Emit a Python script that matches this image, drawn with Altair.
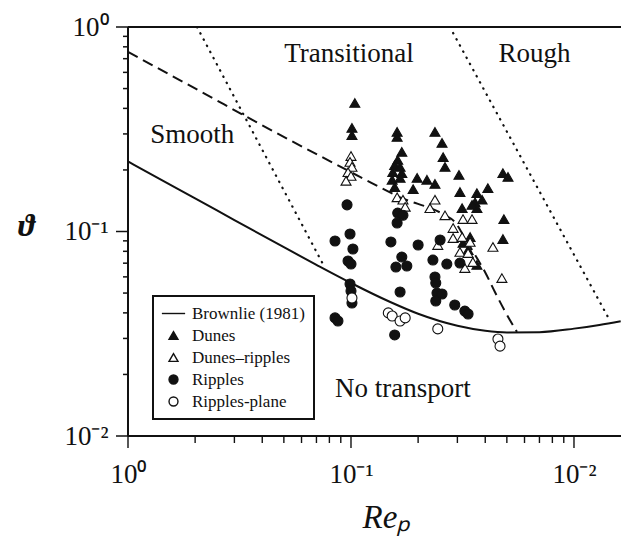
import math
import altair as alt
import pandas as pd

# ---------------- data ----------------
# Brownlie (1981) curve
brownlie_rep = [1, 1.5, 2, 3, 5, 7, 10, 15, 20, 30, 40, 50, 70, 100, 130, 162]
brownlie_theta = [0.220, 0.1725, 0.1452, 0.1138, 0.0838, 0.0687, 0.0560, 0.0452,
                  0.0396, 0.0346, 0.0327, 0.0321, 0.0322, 0.0335, 0.0349, 0.0364]

# dashed boundary
bound_rep = [1, 2.10, 3.91, 7.26, 10.97, 16.6, 26.4, 29.3, 32.4, 36.0, 39.9, 44.2, 49.0, 55.5]
bound_theta = [0.755, 0.486, 0.335, 0.234, 0.185, 0.147, 0.120, 0.111, 0.0929,
               0.0768, 0.0634, 0.0506, 0.0408, 0.0323]

# dotted boundaries
smooth_rep = [2.04, 7.65]
smooth_theta = [1.0, 0.0663]
rough_rep = [28.7, 142]
rough_theta = [0.935, 0.0382]

# Dunes (filled triangles)
dunes_rep = [10.4, 10.1, 10.1, 16.1, 16.1, 16.9, 16.2, 15.7, 16.6, 15.4, 16.9, 15.3, 16.6,
             15.7, 19.8, 21.9, 19.0, 23.8, 23.8, 25.6, 25.9, 26.4, 30.5, 30.8, 36.7, 41.1,
             48.0, 50.6, 36.0, 38.7, 36.7, 34.9, 31.5, 48.5, 48.0, 34.2, 31.8, 33.5, 36.7]
dunes_theta = [0.425, 0.321, 0.296, 0.307, 0.290, 0.245, 0.224, 0.211, 0.207, 0.195, 0.193,
               0.179, 0.183, 0.165, 0.183, 0.179, 0.161, 0.171, 0.307, 0.271, 0.231, 0.207,
               0.189, 0.156, 0.154, 0.163, 0.193, 0.185, 0.139, 0.143, 0.130, 0.135, 0.130,
               0.115, 0.0919, 0.0940, 0.0879, 0.0812, 0.0686]

# Dunes-ripples (open triangles)
dr_rep = [10.0, 9.9, 10.1, 9.7, 10.0, 9.5, 16.1, 17.1, 17.5, 23.8, 22.6, 26.4, 31.8, 34.9,
          28.7, 28.7, 31.5, 34.2, 24.5, 43.3, 30.8, 33.5, 35.2, 32.4, 47.5]
dr_theta = [0.234, 0.219, 0.207, 0.195, 0.187, 0.177, 0.147, 0.143, 0.132, 0.143, 0.130,
            0.120, 0.115, 0.115, 0.104, 0.0929, 0.0940, 0.0889, 0.0859, 0.0840, 0.0794,
            0.0785, 0.0709, 0.0663, 0.0592]

# Ripples (filled circles)
rip_rep = [9.6, 9.9, 8.48, 10.2, 9.7, 10.0, 9.9, 10.0, 10.1, 8.48, 8.74, 16.2, 17.1, 16.1,
           15.1, 16.9, 15.9, 17.8, 16.6, 15.7, 20.0, 25.1, 23.3, 26.9, 30.8, 23.8, 24.0,
           24.3, 25.6, 24.0, 29.2, 32.4, 33.5]
rip_theta = [0.135, 0.0972, 0.0899, 0.0821, 0.0717, 0.0693, 0.0554, 0.0512, 0.0447, 0.0378,
             0.0365, 0.123, 0.120, 0.110, 0.0889, 0.0750, 0.0670, 0.0678, 0.0506, 0.0312,
             0.0859, 0.0909, 0.0725, 0.0693, 0.0701, 0.0599, 0.0560, 0.0500, 0.0495,
             0.0457, 0.0437, 0.0408, 0.0395]

# Ripples-plane (open circles)
rp_rep = [10.1, 14.7, 15.3, 16.6, 17.5, 24.5, 45.6, 46.6]
rp_theta = [0.0473, 0.0400, 0.0386, 0.0365, 0.0378, 0.0334, 0.0298, 0.0275]

# regime labels
region_names = ["Smooth", "Transitional", "Rough", "No transport"]
region_rep = [1.94, 9.80, 66.5, 17.1]
region_theta = [0.271, 0.674, 0.674, 0.0155]

# axes
x_major_values = [1, 10, 100]
x_tick_labels = ["10⁰", "10⁻¹", "10⁻²"]
x_minor_values = [2, 3, 4, 5, 6, 7, 8, 9, 20, 30, 40, 50, 60, 70, 80, 90]
y_major_values = [1, 0.1, 0.01]
y_tick_labels = ["10⁰", "10⁻¹", "10⁻²"]
y_minor_values = [0.02, 0.03, 0.04, 0.05, 0.06, 0.07, 0.08, 0.09,
                  0.2, 0.3, 0.4, 0.5, 0.6, 0.7, 0.8, 0.9]
x_frame = [1, 162.5]      # Re_p range of the plotted frame
y_frame = [0.01, 1]       # theta range of the plotted frame

legend_types = ["Brownlie (1981)", "Dunes", "Dunes–ripples", "Ripples", "Ripples-plane"]

# ---------------- layout ----------------
FONT = "Liberation Serif"
INK = "#111111"
PX_PER_DECADE = 223.0
MAJOR, MINOR = 12, 7
H = 409
# the scale starts one major-tick length left of the frame so the y ticks stay in view
X_LEFT = 10 ** (-MAJOR / PX_PER_DECADE)
X_MINOR_END = 10 ** (-(MAJOR - MINOR) / PX_PER_DECADE)
W = int(round(PX_PER_DECADE * (math.log10(x_frame[1]) - math.log10(X_LEFT))))

brown_df = pd.DataFrame({"rep": brownlie_rep, "theta": brownlie_theta})
bound_df = pd.DataFrame({"rep": bound_rep, "theta": bound_theta})
dot_df = pd.DataFrame({
    "rep": smooth_rep + rough_rep,
    "theta": smooth_theta + rough_theta,
    "seg": ["smooth"] * len(smooth_rep) + ["rough"] * len(rough_rep),
})
pts_df = pd.concat([
    pd.DataFrame({"rep": dunes_rep, "theta": dunes_theta, "type": "Dunes"}),
    pd.DataFrame({"rep": dr_rep, "theta": dr_theta, "type": "Dunes–ripples"}),
    pd.DataFrame({"rep": rip_rep, "theta": rip_theta, "type": "Ripples"}),
    pd.DataFrame({"rep": rp_rep, "theta": rp_theta, "type": "Ripples-plane"}),
], ignore_index=True)
reg_df = pd.DataFrame({"rep": region_rep, "theta": region_theta, "name": region_names})
xmaj_df = pd.DataFrame({"v": x_major_values})
xmin_df = pd.DataFrame({"v": x_minor_values})

# y ticks as short two-point line segments (one segment per tick)
ytick_rows = []
for i, v in enumerate(y_major_values):
    ytick_rows.append({"tx": X_LEFT, "ty": v, "tid": f"M{i}"})
    ytick_rows.append({"tx": x_frame[0], "ty": v, "tid": f"M{i}"})
for i, v in enumerate(y_minor_values):
    ytick_rows.append({"tx": X_MINOR_END, "ty": v, "tid": f"m{i}"})
    ytick_rows.append({"tx": x_frame[0], "ty": v, "tid": f"m{i}"})
ytick_df = pd.DataFrame(ytick_rows)

frame_df = pd.DataFrame({
    "x0": [x_frame[0], x_frame[0], x_frame[0]],
    "x1": [x_frame[0], x_frame[1], x_frame[1]],
    "y0": [y_frame[0], y_frame[0], y_frame[1]],
    "y1": [y_frame[1], y_frame[0], y_frame[1]],
})


def label_expr(values, labels):
    parts = [f"abs(datum.value - {v}) < {v * 1e-6} ? '{l}'" for v, l in zip(values, labels)]
    return " : ".join(parts) + " : ''"


xscale = alt.Scale(type="log", domain=[X_LEFT, x_frame[1]], nice=False)
yscale = alt.Scale(type="log", domain=y_frame, nice=False)

x_axis = alt.Axis(
    orient="bottom", values=x_major_values, labelExpr=label_expr(x_major_values, x_tick_labels),
    ticks=False, domain=False,
    labelFont=FONT, labelFontSize=27, labelColor=INK, labelPadding=25,
    labelFlush=False, labelOverlap=False, grid=False,
    title="Reₚ", titleFont=FONT, titleFontSize=33, titleFontStyle="italic",
    titleFontWeight="normal", titleColor=INK, titleX=270, titleY=91,
    titleAlign="center", titleBaseline="alphabetic",
)
y_axis = alt.Axis(
    orient="left", values=y_major_values, labelExpr=label_expr(y_major_values, y_tick_labels),
    ticks=False, domain=False,
    labelFont=FONT, labelFontSize=27, labelColor=INK, labelPadding=8,
    labelFlush=False, labelOverlap=False, grid=False,
    title="ϑ", titleFont=FONT, titleFontSize=32, titleFontStyle="italic",
    titleFontWeight="bold", titleColor=INK, titleAngle=0, titleX=-90, titleY=208,
    titleAlign="center", titleBaseline="alphabetic",
)

legend = alt.Legend(
    title=None, orient="none", legendX=37, legendY=269, direction="vertical",
    strokeColor=INK, fillColor="white", padding=9, rowPadding=4,
    labelFont=FONT, labelFontSize=17, labelColor=INK, labelOffset=10,
    symbolSize=80, symbolStrokeWidth=1.4, symbolOffset=3,
)
shape_range = ["M-2.6,0H2.6", "triangle-up", "triangle-up", "circle", "circle"]
fill_range = [INK, INK, "white", INK, "white"]
stroke_range = [INK, INK, INK, INK, INK]

# frame lines (left, bottom, top)
frame = alt.Chart(frame_df).mark_rule(color=INK, strokeWidth=2).encode(
    x=alt.X("x0:Q", scale=xscale, axis=None), x2="x1:Q",
    y=alt.Y("y0:Q", scale=yscale, axis=None), y2="y1:Q")

# tick marks (outward), positioned by the scales
xmaj_ticks = alt.Chart(xmaj_df).mark_rule(color=INK, strokeWidth=1.4).encode(
    x=alt.X("v:Q", scale=xscale, axis=None), y=alt.value(H), y2=alt.value(H + MAJOR))
xmin_ticks = alt.Chart(xmin_df).mark_rule(color=INK, strokeWidth=1.4).encode(
    x=alt.X("v:Q", scale=xscale, axis=None), y=alt.value(H), y2=alt.value(H + MINOR))
y_ticks = alt.Chart(ytick_df).mark_line(color=INK, strokeWidth=1.5).encode(
    x=alt.X("tx:Q", scale=xscale, axis=None),
    y=alt.Y("ty:Q", scale=yscale, axis=None),
    detail="tid:N",
)

brown = alt.Chart(brown_df).mark_line(color=INK, strokeWidth=2, interpolate="monotone", clip=True).encode(
    x=alt.X("rep:Q", scale=xscale, axis=None),
    y=alt.Y("theta:Q", scale=yscale, axis=None),
)
bound = alt.Chart(bound_df).mark_line(color=INK, strokeWidth=2, strokeDash=[11, 6],
                                      interpolate="monotone", clip=True).encode(
    x=alt.X("rep:Q", scale=xscale, axis=None),
    y=alt.Y("theta:Q", scale=yscale, axis=None),
)
dots = alt.Chart(dot_df).mark_line(color=INK, strokeWidth=2.2, strokeDash=[0.5, 6.5],
                                   strokeCap="round", clip=True).encode(
    x=alt.X("rep:Q", scale=xscale, axis=None),
    y=alt.Y("theta:Q", scale=yscale, axis=None),
    detail="seg:N",
)
points = alt.Chart(pts_df).mark_point(strokeWidth=1.1, opacity=1, size=100).encode(
    x=alt.X("rep:Q", scale=xscale, axis=x_axis),
    y=alt.Y("theta:Q", scale=yscale, axis=y_axis),
    shape=alt.Shape("type:N", scale=alt.Scale(domain=legend_types, range=shape_range), legend=legend),
    fill=alt.Fill("type:N", scale=alt.Scale(domain=legend_types, range=fill_range), legend=legend),
    stroke=alt.Stroke("type:N", scale=alt.Scale(domain=legend_types, range=stroke_range), legend=legend),
)
labels = alt.Chart(reg_df).mark_text(font=FONT, fontSize=27, color=INK, align="center",
                                     baseline="alphabetic").encode(
    x=alt.X("rep:Q", scale=xscale, axis=None),
    y=alt.Y("theta:Q", scale=yscale, axis=None),
    text="name:N",
)

chart = alt.layer(
    frame, xmaj_ticks, xmin_ticks, y_ticks, brown, bound, dots, points, labels
).resolve_axis(
    x="independent", y="independent"
).properties(
    width=W, height=H,
    autosize=alt.AutoSizeParams(type="none"),
    padding={"left": 108, "top": 19, "right": 0, "bottom": 102},
    background="white",
).configure_view(strokeWidth=0).configure_legend(strokeWidth=2)

chart.save("out.html", embed_options={"renderer": "svg", "actions": False})
